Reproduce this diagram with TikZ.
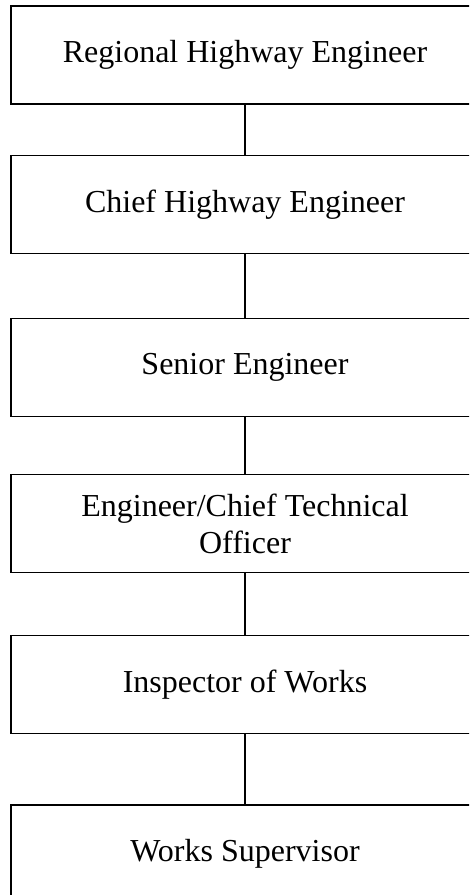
\documentclass[tikz,border=0pt]{standalone}
\usepackage{fontspec}
\setmainfont{Liberation Serif}
\usetikzlibrary{positioning}
\tikzstyle{rank} = [rectangle, minimum width=468pt, minimum height=98pt, inner sep=0pt, align=center, draw=black, line width=1.2pt, font=\fontsize{32}{37}\selectfont]
\tikzstyle{link} = [line width=1.2pt]

\begin{document}
\begin{tikzpicture}[x=1pt, y=1pt]
\clip (0,0) rectangle (469,-895);

\node (reh) [rank] at (245,-55) {Regional Highway Engineer};
\node (che) [rank, below=50pt of reh] {Chief Highway Engineer};
\node (se) [rank, below=64pt of che] {Senior Engineer};
\node (ecto) [rank, below=57pt of se] {Engineer/Chief Technical\\Officer};
\node (iow) [rank, below=62pt of ecto] {Inspector of Works};
\node (ws) [rank, below=70pt of iow] {Works Supervisor};

\draw [link] (reh) -- (che);
\draw [link] (che) -- (se);
\draw [link] (se) -- (ecto);
\draw [link] (ecto) -- (iow);
\draw [link] (iow) -- (ws);

\end{tikzpicture}
\end{document}
